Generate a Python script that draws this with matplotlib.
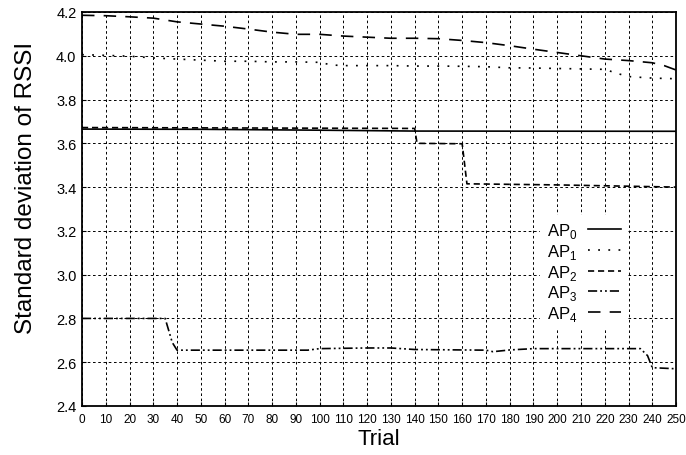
import matplotlib
matplotlib.use("Agg")
import matplotlib.pyplot as plt

plt.rcParams['font.family'] = ['Liberation Sans', 'DejaVu Sans']
plt.rcParams['mathtext.fontset'] = 'custom'
plt.rcParams['mathtext.rm'] = 'Liberation Sans'

# ---- data ----
ap0_x = [0, 50, 100, 140, 250]
ap0_y = [3.665, 3.664, 3.660, 3.656, 3.655]

ap1_x = [0, 10, 20, 30, 40, 50, 60, 70, 80, 90, 100, 105, 110, 120, 130, 140, 150, 160,
         170, 180, 190, 200, 210, 220, 225, 230, 240, 250]
ap1_y = [4.005, 4.002, 3.998, 3.99, 3.985, 3.98, 3.975, 3.975, 3.972, 3.972, 3.97, 3.958,
         3.955, 3.955, 3.955, 3.953, 3.953, 3.952, 3.95, 3.945, 3.944, 3.942, 3.94, 3.938,
         3.92, 3.905, 3.898, 3.895]

ap2_x = [0, 70, 140, 141, 160, 162, 200, 250]
ap2_y = [3.672, 3.670, 3.668, 3.600, 3.598, 3.415, 3.410, 3.400]

ap3_x = [0, 35, 38, 40, 95, 100, 120, 130, 140, 170, 173, 180, 190, 235, 238, 240, 250]
ap3_y = [2.80, 2.80, 2.69, 2.655, 2.655, 2.662, 2.665, 2.665, 2.658, 2.655, 2.648,
         2.656, 2.662, 2.662, 2.63, 2.575, 2.570]

ap4_x = [0, 10, 20, 30, 40, 50, 60, 70, 80, 90, 100, 110, 120, 130, 140, 150, 160, 170,
         180, 190, 200, 210, 220, 230, 240, 245, 250]
ap4_y = [4.185, 4.183, 4.178, 4.172, 4.155, 4.145, 4.135, 4.122, 4.108, 4.098, 4.098,
         4.09, 4.085, 4.08, 4.08, 4.078, 4.07, 4.06, 4.046, 4.03, 4.015, 4.0, 3.985,
         3.978, 3.968, 3.955, 3.935]

labels = [r'AP$_\mathregular{0}$', r'AP$_\mathregular{1}$', r'AP$_\mathregular{2}$',
          r'AP$_\mathregular{3}$', r'AP$_\mathregular{4}$']

x_ticks = list(range(0, 251, 10))
y_ticks = [2.4, 2.6, 2.8, 3.0, 3.2, 3.4, 3.6, 3.8, 4.0, 4.2]

# ---- plot ----
fig = plt.figure(figsize=(6.86, 4.56), dpi=100)
ax = fig.add_axes([0.1195, 0.1075, 0.866, 0.864])

lw = 1.2
ax.plot(ap0_x, ap0_y, color='black', lw=lw, linestyle='-', label=labels[0])
ax.plot(ap1_x, ap1_y, color='black', lw=lw, linestyle=(0, (1.1, 5.0)), label=labels[1])
ax.plot(ap2_x, ap2_y, color='black', lw=lw, linestyle=(0, (3.7, 2.3)), label=labels[2])
ax.plot(ap3_x, ap3_y, color='black', lw=lw, linestyle=(0, (5.5, 1.8, 1.1, 1.8, 1.1, 1.8)), label=labels[3])
ax.plot(ap4_x, ap4_y, color='black', lw=lw, linestyle=(0, (7.5, 5.5)), label=labels[4])

ax.set_xlim(0, 250)
ax.set_ylim(2.4, 4.2)
ax.set_xticks(x_ticks)
ax.set_yticks(y_ticks)
ax.set_yticklabels([f'{v:.1f}' for v in y_ticks])
ax.tick_params(axis='x', labelsize=8.5, direction='in', length=3, pad=5)
ax.tick_params(axis='y', labelsize=10.5, direction='in', length=3, pad=4)
ax.grid(True, color='black', linestyle=(0, (2.7, 2.7)), linewidth=0.7)
for s in ax.spines.values():
    s.set_linewidth(1.3)

ax.set_xlabel('Trial', fontsize=16, labelpad=2)
ax.set_ylabel('Standard deviation of RSSI', fontsize=17.5)
ax.yaxis.set_label_coords(-0.0765, 0.556)

leg = ax.legend(loc='center left', bbox_to_anchor=(0.7715, 0.340), markerfirst=False,
                fontsize=12, frameon=True, fancybox=False, edgecolor='none',
                facecolor='white', framealpha=1, handlelength=1.95, handletextpad=0.65,
                labelspacing=0.1, borderpad=0.4, borderaxespad=0)

fig.savefig('out.png', dpi=100)
